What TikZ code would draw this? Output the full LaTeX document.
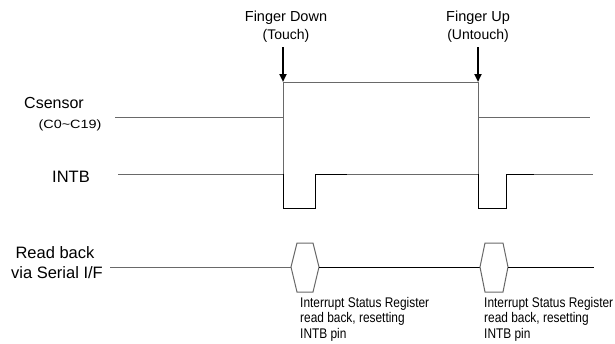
\documentclass[tikz,border=0pt]{standalone}
\usepackage{fontspec}
\setmainfont{Liberation Sans}
\newfontfamily\narrowfont[FakeStretch=0.85]{Liberation Sans}
\newfontfamily\wideFont[FakeStretch=1.2]{Liberation Sans}
\usetikzlibrary{arrows.meta}
\definecolor{sig}{RGB}{105,105,105}
\tikzset{
  sigline/.style={draw=sig, line width=1pt},
  darkline/.style={draw=black, line width=1pt},
  evarrow/.style={draw=black, line width=2pt, -{Triangle[length=8pt,width=7pt]}},
  lbl/.style={inner sep=0pt, align=center},
  note/.style={inner sep=0pt, anchor=west, font=\narrowfont\fontsize{14}{14}\selectfont},
}
\begin{document}
\begin{tikzpicture}[x=1pt,y=-1pt]
\useasboundingbox (0,0) rectangle (615,343);
% labels
\node[lbl, font=\fontsize{14.5}{17}\selectfont] (fd) at (286,18) {Finger Down};
\node[lbl, font=\fontsize{14}{17}\selectfont] (fdt) at (286,36) {(Touch)};
\node[lbl, font=\fontsize{14.5}{17}\selectfont] (fu) at (478,18) {Finger Up};
\node[lbl, font=\fontsize{14}{17}\selectfont] (fut) at (478,36) {(Untouch)};
\node[lbl, font=\fontsize{16}{18}\selectfont] (cs) at (54,103) {Csensor};
\node[lbl, font=\wideFont\fontsize{12}{14}\selectfont] (csr) at (70,125) {(C0\textasciitilde C19)};
\node[lbl, font=\fontsize{16.5}{18}\selectfont] (intb) at (71,177) {INTB};
\node[lbl, font=\fontsize{16.5}{18}\selectfont] (rb1) at (55,253) {Read back};
\node[lbl, font=\fontsize{16.5}{18}\selectfont] (rb2) at (57,273) {via Serial I/F};
% coordinates
\coordinate (a1t) at (283,47);
\coordinate (a1h) at (283,82);
\coordinate (a2t) at (478,47);
\coordinate (a2h) at (478,82);
% Csensor
\draw[sigline] (115,117) -- (283,117) -- (283,82) -- (478,82) -- (478,117) -- (590,117);
\draw[sigline] (283,117) -- (283,174);
\draw[sigline] (478,117) -- (478,174);
% INTB
\draw[sigline] (118,174) -- (283,174);
\draw[darkline] (283,174) -- (283,208) -- (315,208) -- (315,174) -- (347,174);
\draw[sigline] (347,174) -- (478,174);
\draw[darkline] (478,174) -- (478,208) -- (506,208) -- (506,174) -- (534,174);
\draw[sigline] (534,174) -- (593,174);
% arrows
\draw[evarrow] (a1t) -- (a1h);
\draw[evarrow] (a2t) -- (a2h);
% Read back
\draw[sigline] (110,267) -- (291,267);
\draw[sig, line width=1pt] (291,267) -- (297,243) -- (313,243) -- (319,267) -- (313,292) -- (297,292) -- cycle;
\draw[darkline] (319,267) -- (480,267);
\draw[sig, line width=1pt] (480,267) -- (485,243) -- (503,243) -- (508,267) -- (503,292) -- (485,292) -- cycle;
\draw[darkline] (508,267) -- (594,267);
% notes
\node[note] (n1a) at (300,304) {Interrupt Status Register};
\node[note] (n1b) at (300,319) {read back, resetting};
\node[note] (n1c) at (300,335) {INTB pin};
\node[note] (n2a) at (484,304) {Interrupt Status Register};
\node[note] (n2b) at (484,319) {read back, resetting};
\node[note] (n2c) at (484,335) {INTB pin};
\end{tikzpicture}
\end{document}
